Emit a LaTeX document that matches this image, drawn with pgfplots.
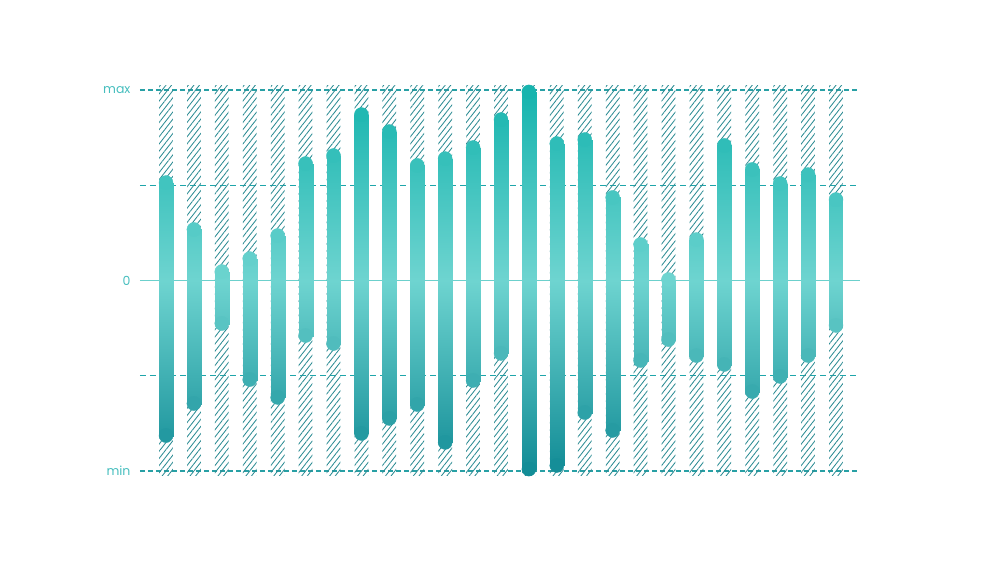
\documentclass[border=0pt]{standalone}
\usepackage{pgfplots}
\pgfplotsset{compat=1.18}
\usetikzlibrary{patterns.meta}
\usepackage{fontspec}
\setmainfont{Poppins}
\definecolor{gridcol}{RGB}{40,160,165}
\definecolor{halfcol}{RGB}{30,165,170}
\definecolor{zerocol}{RGB}{108,208,204}
\definecolor{hatchcol}{RGB}{45,140,148}
\definecolor{labelcol}{RGB}{70,190,190}
\begin{document}
\begin{tikzpicture}
\begin{axis}[
  at={(0pt,0pt)}, anchor=south west,
  scale only axis, width=720pt, height=401pt,
  xmin=0.0688, xmax=25.86, ymin=-1.0525, ymax=1.0525,
  clip=false,
  axis line style={draw=none},
  xtick=\empty,
  ytick={-1,0,1}, yticklabels={min,0,max},
  major tick length=0pt,
  yticklabel style={font=\fontsize{12.5}{13}\selectfont, text=labelcol, anchor=east, xshift=-6pt},
  point meta min=-1, point meta max=1,
  colormap={tealmap}{rgb255(0)=(18,140,150); rgb255(1)=(110,212,208); rgb255(2)=(22,180,174)},
]
% reference lines
\addplot[draw=gridcol, line width=1.2pt, dash pattern=on 5pt off 3pt] coordinates {(0.0688,1) (25.86,1)};
\addplot[draw=gridcol, line width=1.2pt, dash pattern=on 5pt off 3pt] coordinates {(0.0688,-1) (25.86,-1)};
\addplot[draw=halfcol, line width=1.3pt, dash pattern=on 6pt off 4pt] coordinates {(0.0688,0.5) (25.86,0.5)};
\addplot[draw=halfcol, line width=1.3pt, dash pattern=on 6pt off 4pt] coordinates {(0.0688,-0.5) (25.86,-0.5)};
\addplot[draw=zerocol, line width=1.6pt] coordinates {(0.0688,0) (25.86,0)};
% hatched columns
\addplot[ybar, bar width=13.8pt, bar shift=0pt, draw=none,
  pattern={Lines[angle=52,distance=4.4pt,line width=0.85pt]}, pattern color=hatchcol]
  coordinates {
  (1,1.025)(2,1.025)(3,1.025)(4,1.025)(5,1.025)(6,1.025)(7,1.025)(8,1.025)(9,1.025)(10,1.025)
  (11,1.025)(12,1.025)(13,1.025)(14,1.025)(15,1.025)(16,1.025)(17,1.025)(18,1.025)(19,1.025)(20,1.025)
  (21,1.025)(22,1.025)(23,1.025)(24,1.025)(25,1.025)
  (1,-1.025)(2,-1.025)(3,-1.025)(4,-1.025)(5,-1.025)(6,-1.025)(7,-1.025)(8,-1.025)(9,-1.025)(10,-1.025)
  (11,-1.025)(12,-1.025)(13,-1.025)(14,-1.025)(15,-1.025)(16,-1.025)(17,-1.025)(18,-1.025)(19,-1.025)(20,-1.025)
  (21,-1.025)(22,-1.025)(23,-1.025)(24,-1.025)(25,-1.025)
  };
% gradient bars (rectangles between cap centres)
\addplot[patch, patch type=rectangle, shader=interp, point meta=y] coordinates {
  (0.75,-0.814) (1.25,-0.814) (1.25,0.514) (0.75,0.514)
  (1.75,-0.646) (2.25,-0.646) (2.25,0.268) (1.75,0.268)
  (2.75,-0.226) (3.25,-0.226) (3.25,0.047) (2.75,0.047)
  (3.75,-0.520) (4.25,-0.520) (4.25,0.115) (3.75,0.115)
  (4.75,-0.614) (5.25,-0.614) (5.25,0.236) (4.75,0.236)
  (5.75,-0.289) (6.25,-0.289) (6.25,0.614) (5.75,0.614)
  (6.75,-0.331) (7.25,-0.331) (7.25,0.656) (6.75,0.656)
  (7.75,-0.803) (8.25,-0.803) (8.25,0.871) (7.75,0.871)
  (8.75,-0.724) (9.25,-0.724) (9.25,0.782) (8.75,0.782)
  (9.75,-0.651) (10.25,-0.651) (10.25,0.604) (9.75,0.604)
  (10.75,-0.850) (11.25,-0.850) (11.25,0.640) (10.75,0.640)
  (11.75,-0.525) (12.25,-0.525) (12.25,0.698) (11.75,0.698)
  (12.75,-0.383) (13.25,-0.383) (13.25,0.845) (12.75,0.845)
  (13.75,-0.990) (14.25,-0.990) (14.25,0.990) (13.75,0.990)
  (14.75,-0.971) (15.25,-0.971) (15.25,0.719) (14.75,0.719)
  (15.75,-0.693) (16.25,-0.693) (16.25,0.740) (15.75,0.740)
  (16.75,-0.787) (17.25,-0.787) (17.25,0.436) (16.75,0.436)
  (17.75,-0.420) (18.25,-0.420) (18.25,0.189) (17.75,0.189)
  (18.75,-0.310) (19.25,-0.310) (19.25,0.005) (18.75,0.005)
  (19.75,-0.394) (20.25,-0.394) (20.25,0.215) (19.75,0.215)
  (20.75,-0.441) (21.25,-0.441) (21.25,0.709) (20.75,0.709)
  (21.75,-0.583) (22.25,-0.583) (22.25,0.583) (21.75,0.583)
  (22.75,-0.504) (23.25,-0.504) (23.25,0.509) (22.75,0.509)
  (23.75,-0.394) (24.25,-0.394) (24.25,0.556) (23.75,0.556)
  (24.75,-0.236) (25.25,-0.236) (25.25,0.425) (24.75,0.425)
};
% rounded caps
\addplot[scatter, only marks, mark=*, mark size=7pt, point meta=y,
  scatter/use mapped color={draw=mapped color, fill=mapped color}] coordinates {
  (1,0.514)(2,0.268)(3,0.047)(4,0.115)(5,0.236)(6,0.614)(7,0.656)(8,0.871)(9,0.782)(10,0.604)
  (11,0.640)(12,0.698)(13,0.845)(14,0.990)(15,0.719)(16,0.740)(17,0.436)(18,0.189)(19,0.005)(20,0.215)
  (21,0.709)(22,0.583)(23,0.509)(24,0.556)(25,0.425)
  (1,-0.814)(2,-0.646)(3,-0.226)(4,-0.520)(5,-0.614)(6,-0.289)(7,-0.331)(8,-0.803)(9,-0.724)(10,-0.651)
  (11,-0.850)(12,-0.525)(13,-0.383)(14,-0.990)(15,-0.971)(16,-0.693)(17,-0.787)(18,-0.420)(19,-0.310)(20,-0.394)
  (21,-0.441)(22,-0.583)(23,-0.504)(24,-0.394)(25,-0.236)
};
\end{axis}
\path (-140pt,-81pt) rectangle (860pt,481pt);
\end{tikzpicture}
\end{document}
